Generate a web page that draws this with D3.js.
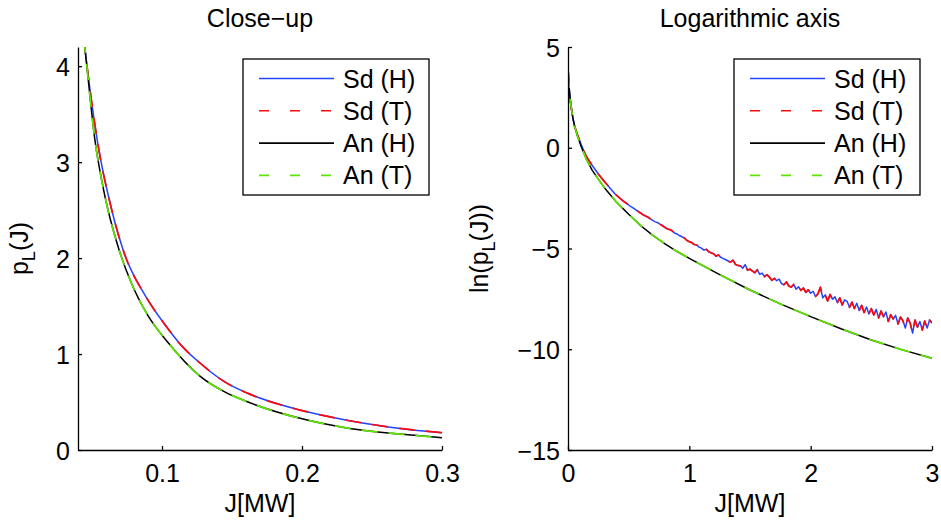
<!DOCTYPE html>
<html>
<head>
<meta charset="utf-8">
<script src="https://cdn.jsdelivr.net/npm/d3@7/dist/d3.min.js"></script>
<style>
  body { margin: 0; background: #fff; }
  svg { display: block; }
  text { font-family: "Liberation Sans", Arial, Helvetica, sans-serif; fill: #000; }
</style>
</head>
<body>
<svg id="chart" width="941" height="524"></svg>
<script>
// close-up panel: J[MW] vs p_L(J)
var closeJ_sd = [0.044, 0.0448, 0.0543, 0.0638, 0.0733, 0.0876, 0.1019, 0.1138, 0.1271, 0.1448, 0.1614, 0.1986, 0.234, 0.27, 0.3];
var closeP_sd = [4.30, 4.20, 3.18, 2.52, 2.04, 1.62, 1.31, 1.09, 0.907, 0.71, 0.59, 0.416, 0.305, 0.225, 0.18];
var closeJ_an = [0.044, 0.0452, 0.0519, 0.059, 0.0686, 0.0781, 0.09, 0.1043, 0.1271, 0.1448, 0.1614, 0.1986, 0.234, 0.27, 0.3];
var closeP_an = [4.30, 4.15, 3.25, 2.66, 2.12, 1.74, 1.40, 1.12, 0.77, 0.605, 0.50, 0.33, 0.225, 0.166, 0.128];

// log panel: J[MW] vs ln(p_L(J))
var logJ_an = [0.002, 0.01, 0.02, 0.03, 0.041, 0.06, 0.08, 0.11, 0.15, 0.2, 0.25, 0.3, 0.4, 0.5, 0.6, 0.7, 0.8, 0.9, 1.0, 1.25, 1.5, 1.75, 2.0, 2.25, 2.5, 2.75, 3.0];
var logP_an = [3.76, 2.95, 2.3, 1.85, 1.44, 0.95, 0.55, 0.04, -0.55, -1.12, -1.56, -1.98, -2.7, -3.3, -3.87, -4.35, -4.77, -5.15, -5.49, -6.3, -7.06, -7.75, -8.38, -8.98, -9.54, -10.02, -10.45];

var logJ_sdHead = [0.002, 0.01, 0.02, 0.03, 0.041, 0.055, 0.08, 0.11, 0.15, 0.2, 0.25, 0.3, 0.386, 0.45, 0.523, 0.6];
var logP_sdHead = [3.76, 2.95, 2.3, 1.87, 1.46, 1.05, 0.62, 0.14, -0.42, -0.88, -1.30, -1.68, -2.28, -2.62, -2.94, -3.25];
// noisy tail, one value every 0.02 from J = 0.62 to 3.0
var logP_sdTail = [
  -3.33, -3.39, -3.45, -3.53, -3.62,  -3.68, -3.72, -3.80, -3.87, -3.96,
  -4.03, -4.06, -4.13, -4.24, -4.28,  -4.37, -4.42, -4.48, -4.60, -4.66,
  -4.71, -4.80, -4.82, -4.93, -4.98,  -5.08, -5.04, -5.16, -5.22, -5.26,
  -5.38, -5.32, -5.44, -5.50, -5.56,  -5.62, -5.68, -5.58, -5.79, -5.84,
  -5.86, -5.98, -5.80, -6.08, -6.02,  -6.12, -6.20, -6.05, -6.28, -6.22,
  -6.40, -6.30, -6.42, -6.58, -6.48,  -6.60, -6.52, -6.74, -6.80, -6.66,
  -6.86, -6.92, -6.78, -7.02, -6.90,  -7.08, -6.96, -7.18, -7.05, -7.22,
  -7.12, -7.38, -7.25, -6.92, -7.45,  -7.30, -7.60, -7.28, -7.52, -7.40,
  -7.68, -7.45, -7.80, -7.55, -7.62,  -7.92, -7.66, -7.98, -7.72, -8.08,
  -7.82, -8.18, -7.90, -8.25, -7.98,  -8.30, -8.02, -8.45, -8.10, -8.38,
  -8.15, -8.62, -8.28, -8.50, -8.32,  -8.75, -8.40, -8.58, -8.95, -8.45,
  -8.70, -9.20, -8.55, -8.90, -8.62,  -9.05, -8.60, -8.95, -8.55, -8.70
];
var logJ_sdTail = logP_sdTail.map(function(v, i) { return +(0.62 + i * 0.02).toFixed(2); });

var legendNames = ["Sd (H)", "Sd (T)", "An (H)", "An (T)"];
var seriesColors = ["#2244ff", "#ff0a0a", "#000000", "#5ee600"];
var seriesDash = [null, "16,11", null, "16,11"];

var svg = d3.select("#chart");
var FONT = 25;

function zip(xs, ys) {
    return xs.map(function(x, i) { return [x, ys[i]]; });
}

var closeSd = zip(closeJ_sd, closeP_sd);
var closeAn = zip(closeJ_an, closeP_an);
var logSd = zip(logJ_sdHead.concat(logJ_sdTail), logP_sdHead.concat(logP_sdTail));
var logAn = zip(logJ_an, logP_an);

var panels = [
    {
        id: "p1", left: 78, right: 442, top: 47, bottom: 450,
        xDomain: [0.04, 0.3], yDomain: [0, 4.2],
        xTicks: [0.1, 0.2, 0.3], yTicks: [0, 1, 2, 3, 4],
        xFmt: d3.format(".1f"), yFmt: d3.format("d"),
        title: "Close\u2212up", ylabelX: 28, ylabelMain: "p", ylabelRest: "(J)", ylabelPre: "",
        legendLeft: 243,
        series: [closeSd, closeSd, closeAn, closeAn],
        curve: d3.curveMonotoneX
    },
    {
        id: "p2", left: 568, right: 932, top: 47, bottom: 450,
        xDomain: [0, 3], yDomain: [-15, 5],
        xTicks: [0, 1, 2, 3], yTicks: [-15, -10, -5, 0, 5],
        xFmt: d3.format("d"), yFmt: d3.format("d"),
        title: "Logarithmic axis", ylabelX: 488, ylabelMain: "p", ylabelRest: "(J))", ylabelPre: "ln(",
        legendLeft: 734,
        series: [logSd, logSd, logAn, logAn],
        curve: d3.curveLinear
    }
];

panels.forEach(function(p) {
    var x = d3.scaleLinear().domain(p.xDomain).range([p.left, p.right]);
    var y = d3.scaleLinear().domain(p.yDomain).range([p.bottom, p.top]);
    var g = svg.append("g");

    svg.append("clipPath").attr("id", "clip-" + p.id)
        .append("rect")
        .attr("x", p.left).attr("y", p.top)
        .attr("width", p.right - p.left).attr("height", p.bottom - p.top);

    // curves
    var line = d3.line()
        .x(function(d) { return x(d[0]); })
        .y(function(d) { return y(d[1]); })
        .curve(p.curve);

    p.series.forEach(function(data, i) {
        g.append("path")
            .datum(data)
            .attr("clip-path", "url(#clip-" + p.id + ")")
            .attr("d", line)
            .attr("fill", "none")
            .attr("stroke", seriesColors[i])
            .attr("stroke-width", seriesDash[i] ? 1.7 : 1.5)
            .attr("stroke-linejoin", "round")
            .attr("stroke-dasharray", seriesDash[i]);
    });

    // axes, ticks point inward
    var xAxis = d3.axisBottom(x).tickValues(p.xTicks).tickFormat(p.xFmt)
        .tickSizeInner(-4).tickSizeOuter(0).tickPadding(14);
    var yAxis = d3.axisLeft(y).tickValues(p.yTicks).tickFormat(p.yFmt)
        .tickSizeInner(-4).tickSizeOuter(0).tickPadding(8);

    var gx = g.append("g").attr("transform", "translate(0," + p.bottom + ")").call(xAxis);
    var gy = g.append("g").attr("transform", "translate(" + p.left + ",0)").call(yAxis);

    [gx, gy].forEach(function(a) {
        a.attr("font-size", FONT).attr("font-family", null);
        a.selectAll("path, line").attr("stroke", "#000").attr("stroke-width", 1.3);
        a.selectAll("text").attr("fill", "#000");
    });
    gy.selectAll("text").attr("dy", "0.36em");

    // title
    g.append("text")
        .attr("x", (p.left + p.right) / 2)
        .attr("y", 27)
        .attr("text-anchor", "middle")
        .attr("font-size", FONT)
        .text(p.title);

    // x label
    g.append("text")
        .attr("x", (p.left + p.right) / 2)
        .attr("y", 512)
        .attr("text-anchor", "middle")
        .attr("font-size", FONT)
        .text("J[MW]");

    // y label with subscript L
    var yl = g.append("text")
        .attr("transform", "translate(" + p.ylabelX + "," + ((p.top + p.bottom) / 2) + ")rotate(-90)")
        .attr("text-anchor", "middle")
        .attr("font-size", FONT);
    yl.append("tspan").text(p.ylabelPre + p.ylabelMain);
    yl.append("tspan").attr("dy", 7).attr("font-size", 18).text("L");
    yl.append("tspan").attr("dy", -7).text(p.ylabelRest);

    // legend
    var lg = g.append("g").attr("transform", "translate(" + p.legendLeft + ",59)");
    lg.append("rect")
        .attr("width", 186).attr("height", 136)
        .attr("fill", "#fff").attr("stroke", "#000").attr("stroke-width", 1.3);

    legendNames.forEach(function(name, i) {
        var ly = 19.5 + i * 32.3;
        lg.append("line")
            .attr("x1", 16).attr("x2", 91)
            .attr("y1", ly).attr("y2", ly)
            .attr("stroke", seriesColors[i])
            .attr("stroke-width", 1.6)
            .attr("stroke-dasharray", seriesDash[i] ? "10,21" : null);
        lg.append("text")
            .attr("x", 100).attr("y", ly)
            .attr("dy", "0.36em")
            .attr("font-size", FONT)
            .text(name);
    });
});
</script>
</body>
</html>
